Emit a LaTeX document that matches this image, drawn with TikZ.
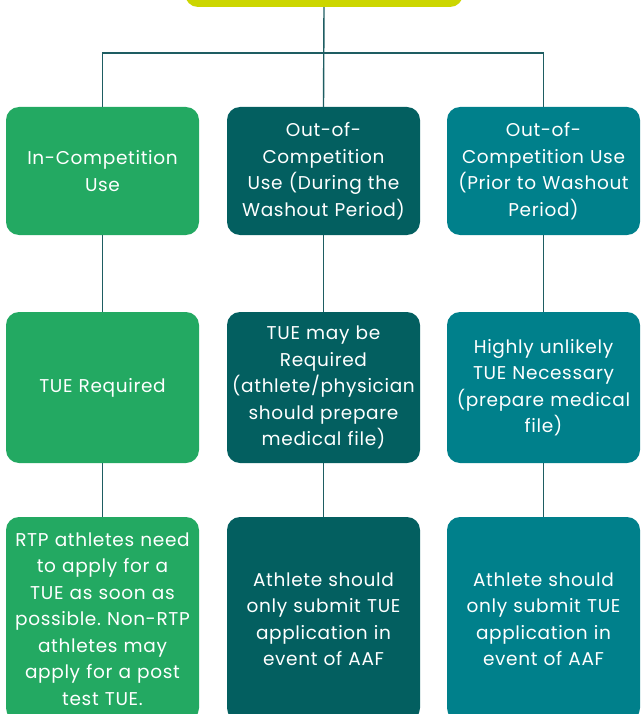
\documentclass[tikz,border=0pt]{standalone}
\usepackage{fontspec}
\setmainfont[LetterSpace=3.5]{Poppins}
\frenchspacing
\definecolor{icgreen}{HTML}{23A962}
\definecolor{wodark}{HTML}{035F60}
\definecolor{prteal}{HTML}{00808B}
\definecolor{toplime}{HTML}{CCD600}
\definecolor{linkteal}{HTML}{1E5D62}
\begin{document}
\begin{tikzpicture}[x=1pt, y=-1pt,
    box/.style={rounded corners=13pt, minimum width=193pt, text width=191pt, align=center, inner sep=1pt, text=white, font=\fontsize{18.5}{26.5}\selectfont},
    link/.style={draw=linkteal, line width=1.4pt}]
        \useasboundingbox (0,0) rectangle (640,714);

        \coordinate (bar) at (323.5,53);

        \node[fill=toplime, rounded corners=13pt, minimum width=278pt, minimum height=60pt] (top) at (324,-23) {};

        \node[box, fill=icgreen, minimum height=128pt] (ic) at (102.5,171) {In-Competition\\Use};
        \node[box, fill=wodark, minimum height=128pt] (wo) at (323.5,171) {Out-of-\\Competition\\Use (During the\\Washout Period)};
        \node[box, fill=prteal, minimum height=128pt] (pr) at (543.5,171) {Out-of-\\Competition Use\\(Prior to Washout\\Period)};

        \node[box, fill=icgreen, minimum height=151pt] (icreq) at (102.5,387.5) {TUE Required};
        \node[box, fill=wodark, minimum height=151pt] (woreq) at (323.5,387.5) {TUE may be\\Required\\(athlete/physician\\should prepare\\medical file)};
        \node[box, fill=prteal, minimum height=151pt] (prreq) at (543.5,387.5) {Highly unlikely\\TUE Necessary\\(prepare medical\\file)};

        \node[box, fill=icgreen, minimum height=204pt] (icapp) at (102.5,619) {RTP athletes need\\to apply for a\\TUE as soon as\\possible. Non-RTP\\athletes may\\apply for a post\\test TUE.};
        \node[box, fill=wodark, minimum height=204pt] (woapp) at (323.5,619) {Athlete should\\only submit TUE\\application in\\event of AAF};
        \node[box, fill=prteal, minimum height=204pt] (prapp) at (543.5,619) {Athlete should\\only submit TUE\\application in\\event of AAF};

        \draw[link] (top.south) -- (wo.north);
        \draw[link] (ic.north) |- (bar) -| (pr.north);

        \draw[link] (ic.south) -- (icreq.north);
        \draw[link] (wo.south) -- (woreq.north);
        \draw[link] (pr.south) -- (prreq.north);

        \draw[link] (icreq.south) -- (icapp.north);
        \draw[link] (woreq.south) -- (woapp.north);
        \draw[link] (prreq.south) -- (prapp.north);
    \end{tikzpicture}
\end{document}
